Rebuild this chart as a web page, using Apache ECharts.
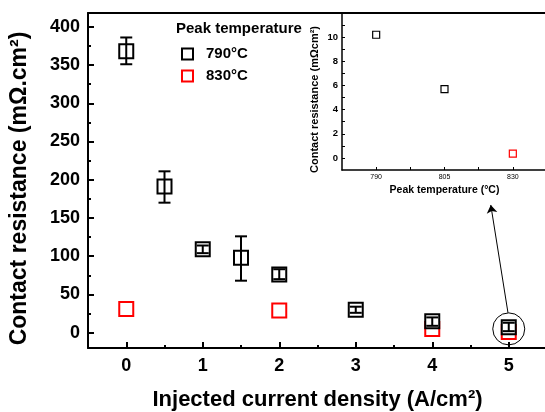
<!DOCTYPE html>
<html><head><meta charset="utf-8">
<script src="https://cdn.jsdelivr.net/npm/echarts@6/dist/echarts.min.js"></script>
<style>html,body{margin:0;padding:0;background:#fff}#c{width:545px;height:412px}</style>
</head><body><div id="c"></div>
<script>
// ---- data ----
const currentDensity790 = [0, 0.5, 1, 1.5, 2, 3, 4, 5];
const resistance790 = [368, 191, 109, 98, 76, 30, 15, 7];
const errLow790 = [351, 170, 104, 68, 70, 26, 9, 2];
const errHigh790 = [386, 211, 114, 126, 83, 34, 20, 13];
const currentDensity830 = [0, 2, 4, 5];
const resistance830 = [31, 29, 5, 1];
const xMajorTicks = [0, 1, 2, 3, 4, 5];
const xMinorTicks = [0.5, 1.5, 2.5, 3.5, 4.5, 5.5];
const yMajorTicks = [0, 50, 100, 150, 200, 250, 300, 350, 400];
const yMinorTicks = [25, 75, 125, 175, 225, 275, 325, 375];
const insetTemps = ['790', '805', '830'];
const insetIdx790 = [0, 1];
const insetRes790 = [10.2, 5.7];
const insetIdx830 = [2];
const insetRes830 = [0.35];
const insetYLabels = [0, 2, 4, 6, 8, 10];
const insetYTicks = [0, 1, 2, 3, 4, 5, 6, 7, 8, 9, 10, 11];
const insetXTicks = [0, 0.5, 1, 1.5, 2];

const FONT = '"Liberation Sans", Arial, sans-serif';
const chart = echarts.init(document.getElementById('c'), null, {renderer: 'canvas'});

const main790 = currentDensity790.map((x, i) => [x, resistance790[i]]);
const main830 = currentDensity830.map((x, i) => [x, resistance830[i]]);
const errData = currentDensity790.map((x, i) => [x, errLow790[i], errHigh790[i]]);

const mainGrid = {left: 88, top: 13, right: -2, bottom: 64, outerBoundsMode: 'none', containLabel: false};

chart.setOption({
  backgroundColor: '#fff',
  animation: false,
  textStyle: {fontFamily: FONT},
  grid: [
    Object.assign({}, mainGrid),
    Object.assign({}, mainGrid),
    {left: 342, top: 13, right: -2, bottom: 242, show: true, backgroundColor: '#fff', borderWidth: 0, outerBoundsMode: 'none', containLabel: false}
  ],
  graphic: [{
    type: 'text', left: 176, top: 21, z: 100,
    style: {text: 'Peak temperature', font: 'bold 15px ' + FONT, fill: '#000'}
  }],
  legend: {
    orient: 'vertical', left: 176, top: 41, itemWidth: 11, itemHeight: 11, itemGap: 6,
    data: ['790\u00B0C', '830\u00B0C'],
    textStyle: {fontFamily: FONT, fontWeight: 'bold', fontSize: 15, color: '#000', lineHeight: 16, padding: [0, 0, 0, 8]}
  },
  xAxis: [
    {
      gridIndex: 0, type: 'value', min: -0.5, max: 5.5, position: 'bottom',
      axisLine: {onZero: false, lineStyle: {color: '#000', width: 2}},
      axisTick: {inside: true, length: 6, lineStyle: {width: 2, color: '#000'}, customValues: xMajorTicks},
      axisLabel: {customValues: xMajorTicks, color: '#000', fontWeight: 'bold', fontSize: 18, margin: 9, fontFamily: FONT},
      splitLine: {show: false},
      name: 'Injected current density (A/cm\u00B2)', nameLocation: 'middle', nameGap: 41,
      nameTextStyle: {fontWeight: 'bold', fontSize: 22, color: '#000', fontFamily: FONT}
    },
    {
      gridIndex: 0, type: 'value', min: -0.5, max: 5.5, position: 'top',
      axisLine: {onZero: false, lineStyle: {color: '#000', width: 2}},
      axisTick: {show: false}, axisLabel: {show: false}, splitLine: {show: false}
    },
    {
      gridIndex: 1, type: 'value', min: -0.5, max: 5.5, position: 'bottom',
      axisLine: {show: false, onZero: false},
      axisTick: {inside: true, length: 3, lineStyle: {width: 2, color: '#000'}, customValues: xMinorTicks},
      axisLabel: {show: false}, splitLine: {show: false}
    },
    {
      gridIndex: 2, type: 'value', min: -0.5, max: 2.5, position: 'bottom',
      axisLine: {onZero: false, lineStyle: {color: '#000', width: 1.5}},
      axisTick: {inside: true, length: 3, lineStyle: {width: 1, color: '#000'}, customValues: insetXTicks},
      axisLabel: {customValues: [0, 1, 2], formatter: v => insetTemps[Math.round(v)], color: '#000', fontSize: 7, margin: 4, fontFamily: FONT},
      splitLine: {show: false},
      name: 'Peak temperature (\u00B0C)', nameLocation: 'middle', nameGap: 15,
      nameTextStyle: {fontWeight: 'bold', fontSize: 10.5, color: '#000', fontFamily: FONT}
    }
  ],
  yAxis: [
    {
      gridIndex: 0, type: 'value', min: -20, max: 418,
      axisLine: {onZero: false, lineStyle: {color: '#000', width: 2}},
      axisTick: {inside: true, length: 6, lineStyle: {width: 2, color: '#000'}, customValues: yMajorTicks},
      axisLabel: {customValues: yMajorTicks, color: '#000', fontWeight: 'bold', fontSize: 18, margin: 8, fontFamily: FONT},
      splitLine: {show: false},
      name: 'Contact resistance (m\u03A9.cm\u00B2)', nameLocation: 'middle', nameGap: 57,
      nameTextStyle: {fontWeight: 'bold', fontSize: 23, color: '#000', fontFamily: FONT, padding: [0, 16, 0, 0]}
    },
    {
      gridIndex: 1, type: 'value', min: -20, max: 418,
      axisLine: {show: false, onZero: false},
      axisTick: {inside: true, length: 3, lineStyle: {width: 2, color: '#000'}, customValues: yMinorTicks},
      axisLabel: {show: false}, splitLine: {show: false}
    },
    {
      gridIndex: 2, type: 'value', min: -1, max: 12,
      axisLine: {onZero: false, lineStyle: {color: '#000', width: 1.5}},
      axisTick: {inside: true, length: 3, lineStyle: {width: 1, color: '#000'}, customValues: insetYTicks},
      axisLabel: {customValues: insetYLabels, color: '#000', fontSize: 9.5, fontWeight: 'bold', margin: 4, fontFamily: FONT},
      splitLine: {show: false},
      name: 'Contact resistance (m\u03A9cm\u00B2)', nameLocation: 'middle', nameGap: 22,
      nameTextStyle: {fontWeight: 'bold', fontSize: 11, color: '#000', fontFamily: FONT, padding: [0, 16, 0, 0]}
    }
  ],
  series: [
    {
      name: '830\u00B0C', type: 'scatter', xAxisIndex: 0, yAxisIndex: 0, z: 2,
      symbol: 'rect', symbolSize: 14, data: main830,
      itemStyle: {color: '#fff', borderColor: '#ff0000', borderWidth: 2, opacity: 1}
    },
    {
      name: '790\u00B0C', type: 'scatter', xAxisIndex: 0, yAxisIndex: 0, z: 3,
      symbol: 'rect', symbolSize: 14, data: main790,
      itemStyle: {color: '#fff', borderColor: '#000', borderWidth: 2, opacity: 1},
      markPoint: {
        silent: true, symbol: 'circle', symbolSize: 32,
        itemStyle: {color: 'rgba(0,0,0,0)', borderColor: '#000', borderWidth: 1},
        label: {show: false},
        data: [{coord: [5, 5]}]
      },
      markLine: {
        silent: true, symbol: ['none', 'arrow'], symbolSize: 8,
        lineStyle: {color: '#000', width: 1, type: 'solid'},
        label: {show: false},
        data: [[{coord: [4.99, 26]}, {coord: [4.765, 167]}]]
      }
    },
    {
      name: 'err', type: 'custom', xAxisIndex: 0, yAxisIndex: 0, z: 4,
      data: errData,
      renderItem: function (params, api) {
        const x = api.value(0);
        const lo = api.coord([x, api.value(1)]);
        const hi = api.coord([x, api.value(2)]);
        const w = 6;
        const st = {stroke: '#000', lineWidth: 2};
        return {
          type: 'group',
          children: [
            {type: 'line', shape: {x1: lo[0], y1: lo[1], x2: hi[0], y2: hi[1]}, style: st},
            {type: 'line', shape: {x1: lo[0] - w, y1: lo[1], x2: lo[0] + w, y2: lo[1]}, style: st},
            {type: 'line', shape: {x1: hi[0] - w, y1: hi[1], x2: hi[0] + w, y2: hi[1]}, style: st}
          ]
        };
      }
    },
    {
      name: 'inset790', type: 'scatter', xAxisIndex: 3, yAxisIndex: 2, z: 5,
      symbol: 'rect', symbolSize: 7,
      data: insetIdx790.map((x, i) => [x, insetRes790[i]]),
      itemStyle: {color: '#fff', borderColor: '#000', borderWidth: 1.2, opacity: 1}
    },
    {
      name: 'inset830', type: 'scatter', xAxisIndex: 3, yAxisIndex: 2, z: 5,
      symbol: 'rect', symbolSize: 7,
      data: insetIdx830.map((x, i) => [x, insetRes830[i]]),
      itemStyle: {color: '#fff', borderColor: '#ff0000', borderWidth: 1.2, opacity: 1}
    }
  ]
});
</script>
</body></html>
